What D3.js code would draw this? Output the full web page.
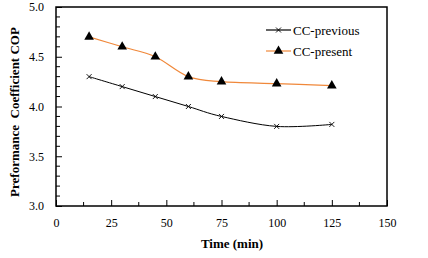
<!DOCTYPE html>
<html>
<head>
<meta charset="utf-8">
<script src="https://cdn.jsdelivr.net/npm/d3@7"></script>
<style>
  body { margin: 0; background: #fff; }
  text { font-family: "Liberation Serif", "Times New Roman", serif; }
</style>
</head>
<body>
<div id="wrapper"></div>
<script>
const timeMin = [15, 30, 45, 60, 75, 100, 125]
const copPrevious = [4.30, 4.20, 4.10, 4.00, 3.90, 3.80, 3.82]
const copPresent = [4.70, 4.60, 4.50, 4.30, 4.25, 4.23, 4.21]
const xTicks = [0, 25, 50, 75, 100, 125, 150]
const yTicks = [3.0, 3.5, 4.0, 4.5, 5.0]
const seriesNames = ["CC-previous", "CC-present"]

const dimensions = {
    width: 428,
    height: 258,
    margin: { top: 7, right: 41, bottom: 52, left: 56 }
}
dimensions.boundedWidth = dimensions.width - dimensions.margin.left - dimensions.margin.right
dimensions.boundedHeight = dimensions.height - dimensions.margin.top - dimensions.margin.bottom

const svg = d3.select("#wrapper")
    .append("svg")
    .attr("width", dimensions.width)
    .attr("height", dimensions.height)

const bounds = svg.append("g")
    .attr("transform", `translate(${dimensions.margin.left},${dimensions.margin.top})`)

const xScale = d3.scaleLinear()
    .domain([0, 150])
    .range([0, dimensions.boundedWidth])

const yScale = d3.scaleLinear()
    .domain([3.0, 5.0])
    .range([dimensions.boundedHeight, 0])

// minor ticks (inside)
const xMinor = d3.range(12.5, 150, 25)
bounds.append("g").selectAll("line")
    .data(xMinor)
    .join("line")
    .attr("x1", d => xScale(d)).attr("x2", d => xScale(d))
    .attr("y1", dimensions.boundedHeight).attr("y2", dimensions.boundedHeight - 4)
    .attr("stroke", "#000").attr("stroke-width", 1)

const yMinor = d3.range(3.1, 5.0, 0.1).filter(v => Math.abs(v * 2 - Math.round(v * 2)) > 0.01)
bounds.append("g").selectAll("line")
    .data(yMinor)
    .join("line")
    .attr("x1", 0).attr("x2", 4)
    .attr("y1", d => yScale(d)).attr("y2", d => yScale(d))
    .attr("stroke", "#000").attr("stroke-width", 1)

const xAxis = d3.axisBottom(xScale)
    .tickValues(xTicks)
    .tickSizeInner(-6)
    .tickSizeOuter(0)
    .tickPadding(12)

const yAxis = d3.axisLeft(yScale)
    .tickValues(yTicks)
    .tickFormat(d3.format(".1f"))
    .tickSizeInner(-6)
    .tickSizeOuter(0)
    .tickPadding(12)

const xAxisEl = bounds.append("g")
    .attr("transform", `translate(0,${dimensions.boundedHeight})`)
    .call(xAxis)
const yAxisEl = bounds.append("g").call(yAxis)

for (const el of [xAxisEl, yAxisEl]) {
    el.select(".domain").remove()
    el.selectAll("line").attr("stroke", "#000").attr("stroke-width", 1)
    el.selectAll("text")
        .style("font-family", "'Liberation Serif', serif")
        .style("font-size", "12px")
        .attr("fill", "#000")
}

// plot frame
bounds.append("rect")
    .attr("x", 0).attr("y", 0)
    .attr("width", dimensions.boundedWidth)
    .attr("height", dimensions.boundedHeight)
    .attr("fill", "none")
    .attr("stroke", "#000")
    .attr("stroke-width", 1.5)

const line = d3.line()
    .x(d => xScale(d[0]))
    .y(d => yScale(d[1]))
    .curve(d3.curveCardinal.tension(0))

const prevData = timeMin.map((t, i) => [t, copPrevious[i]])
const presData = timeMin.map((t, i) => [t, copPresent[i]])

bounds.append("path")
    .datum(prevData)
    .attr("d", line)
    .attr("fill", "none")
    .attr("stroke", "#000")
    .attr("stroke-width", 1)

bounds.append("path")
    .datum(presData)
    .attr("d", line)
    .attr("fill", "none")
    .attr("stroke", "#f0883a")
    .attr("stroke-width", 1.2)

const crossPath = "M-2.5,-2.5L2.5,2.5M-2.5,2.5L2.5,-2.5"
const triPath = d3.symbol().type(d3.symbolTriangle).size(40)()

bounds.append("g").selectAll("path")
    .data(prevData)
    .join("path")
    .attr("transform", d => `translate(${xScale(d[0])},${yScale(d[1])})`)
    .attr("d", crossPath)
    .attr("stroke", "#000")
    .attr("stroke-width", 0.9)
    .attr("fill", "none")

bounds.append("g").selectAll("path")
    .data(presData)
    .join("path")
    .attr("transform", d => `translate(${xScale(d[0])},${yScale(d[1])})`)
    .attr("d", triPath)
    .attr("fill", "#000")

// legend
const legend = svg.append("g")
const legendRows = [
    { name: seriesNames[0], color: "#000", marker: crossPath, fill: "none" },
    { name: seriesNames[1], color: "#f0883a", marker: triPath, fill: "#000" }
]
legendRows.forEach((r, i) => {
    const y = 30 + i * 21
    legend.append("line")
        .attr("x1", 266).attr("x2", 291)
        .attr("y1", y).attr("y2", y)
        .attr("stroke", r.color).attr("stroke-width", 1.2)
    legend.append("path")
        .attr("transform", `translate(278.5,${y})`)
        .attr("d", r.marker)
        .attr("fill", r.fill)
        .attr("stroke", r.fill === "none" ? "#000" : "none")
        .attr("stroke-width", 0.9)
    legend.append("text")
        .attr("x", 293).attr("y", y + 4.5)
        .style("font-size", "13px")
        .text(r.name)
})

// axis titles
svg.append("text")
    .attr("x", 232).attr("y", 248)
    .attr("text-anchor", "middle")
    .style("font-size", "13px")
    .style("font-weight", "bold")
    .text("Time (min)")

svg.append("text")
    .attr("transform", "translate(19,112) rotate(-90)")
    .attr("text-anchor", "middle")
    .style("font-size", "13px")
    .style("font-weight", "bold")
    .attr("xml:space", "preserve")
    .style("white-space", "pre")
    .text("Preformance  Coefficient COP")
</script>
</body>
</html>
